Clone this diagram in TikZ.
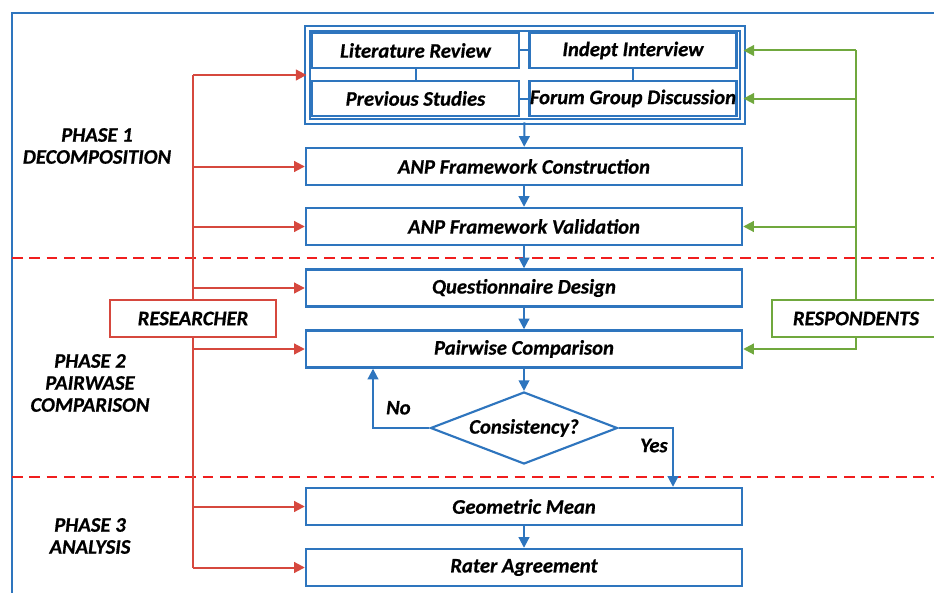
\documentclass[tikz,border=0pt]{standalone}
\usepackage{fontspec}
\setmainfont{Carlito}[BoldItalicFeatures={FakeBold=0.6}]
\usetikzlibrary{shapes.geometric,arrows.meta}
\definecolor{flowblue}{RGB}{46,117,190}
\definecolor{resred}{RGB}{214,72,62}
\definecolor{phasered}{RGB}{240,30,30}
\definecolor{respgreen}{RGB}{112,168,62}
\begin{document}
\begin{tikzpicture}[x=0.75pt,y=-0.75pt,
        font=\fontsize{15.5}{16.5}\selectfont\bfseries\itshape,
        stepbox/.style={draw=flowblue,line width=1.8pt,fill=white,minimum width=327pt,minimum height=27.75pt,inner sep=0pt},
        srcbox/.style={draw=flowblue,line width=1.6pt,fill=white,minimum width=155.25pt,minimum height=26.25pt,inner sep=0pt},
        actorbox/.style={line width=1.6pt,fill=white,minimum width=124.5pt,minimum height=27.75pt,inner sep=0pt},
        flow/.style={draw=flowblue,line width=1.5pt,-{Triangle[length=8pt,width=8pt]}},
        link/.style={draw=flowblue,line width=1.5pt},
        resline/.style={draw=resred,line width=1.5pt,-{Triangle[length=8pt,width=8pt]}},
        respline/.style={draw=respgreen,line width=1.5pt,-{Triangle[length=8pt,width=8pt]}},
        phaseline/.style={draw=phasered,line width=2pt,dash pattern=on 8pt off 5pt},
        phase/.style={align=center,text=black}]
    \useasboundingbox (0,0) rectangle (934,592);

    % frame
    \draw[flowblue,line width=1.6pt] (12,600) -- (12,13) -- (940,13);

    % phases
    \coordinate (p1l) at (12,258);
    \coordinate (p1r) at (934,258);
    \coordinate (p2l) at (12,477);
    \coordinate (p2r) at (934,477);

    \node[phase] (phase1) at (97,146) {PHASE 1\\DECOMPOSITION};
    \node[phase] (phase2) at (90,383) {PHASE 2\\PAIRWASE\\COMPARISON};
    \node[phase] (phase3) at (90,536) {PHASE 3\\ANALYSIS};

    % sources
    \node[draw=flowblue,line width=1.4pt,double,double distance=1.8pt,minimum width=326.25pt,minimum height=69.75pt,inner sep=0pt] (src) at (525,75) {};
    \node[srcbox] (lit) at (415.5,50.5) {Literature Review};
    \node[srcbox] (indept) at (633,50.5) {Indept Interview};
    \node[srcbox] (prev) at (415.5,98.5) {Previous Studies};
    \node[srcbox] (forum) at (633,98.5) {Forum Group Discussion};
    \draw[link] (lit) -- (indept);
    \draw[link] (prev) -- (forum);
    \draw[link] (lit) -- (prev);
    \draw[link] (indept) -- (forum);

    % steps
    \node[stepbox] (build) at (524,166.5) {ANP Framework Construction};
    \node[stepbox] (valid) at (524,226.5) {ANP Framework Validation};
    \node[stepbox] (quest) at (524,288) {Questionnaire Design};
    \node[stepbox] (pair) at (524,349) {Pairwise Comparison};
    \node[diamond,aspect=2.6,draw=flowblue,line width=1.6pt,fill=white,minimum width=140.25pt,minimum height=54pt,inner sep=0pt] (cons) at (524,428) {Consistency?};
    \node[stepbox] (geo) at (524,506.5) {Geometric Mean};
    \node[stepbox] (rater) at (524,567.5) {Rater Agreement};

    \draw[phaseline] (p1l) -- (p1r);
    \draw[phaseline] (p2l) -- (p2r);

    \draw[flow] (src) -- (build);
    \draw[flow] (build) -- (valid);
    \draw[flow] (valid) -- (quest);
    \draw[flow] (quest) -- (pair);
    \draw[flow] (pair) -- (cons);
    \draw[flow] (geo) -- (rater);
    \draw[flow] (cons.west) -- (373,428) node[pos=0.55,above=6pt] {No} -- (pair.south -| 373,0);
    \draw[flow] (cons.east) -- (673,428) node[pos=0.65,below=4pt] {Yes} -- (geo.north -| 673,0);

    % researcher
    \coordinate (rtop) at (193,74);
    \coordinate (rbot) at (193,567.5);
    \draw[resred,line width=1.5pt] (src.west -| rtop) -- (rbot);
    \draw[resline] (src.west -| rtop) -- (src.west);
    \foreach \n in {build,valid,quest,pair,geo,rater}
        \draw[resline] (\n.west -| rtop) -- (\n.west);
    \node[actorbox,draw=resred] (res) at (193,318.5) {RESEARCHER};

    % respondents
    \coordinate (gx) at (856,0);
    \node[actorbox,draw=respgreen,minimum width=126pt] (resp) at (856,318.5) {RESPONDENTS};
    \draw[respgreen,line width=1.5pt] (resp.north) -- (lit.east -| gx);
    \draw[respline] (lit.east -| gx) -- (lit.east -| src.east);
    \draw[respline] (forum.east -| gx) -- (forum.east -| src.east);
    \draw[respline] (valid.east -| gx) -- (valid.east);
    \draw[respline] (resp.south) -- (pair.east -| gx) -- (pair.east);
\end{tikzpicture}
\end{document}
